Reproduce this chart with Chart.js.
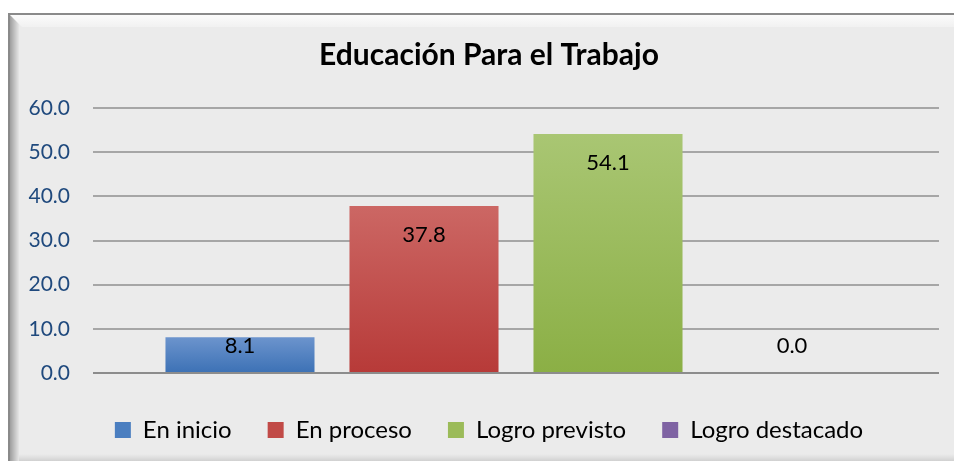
<!DOCTYPE html>
<html><head><meta charset="utf-8">
<script src="https://cdn.jsdelivr.net/npm/chart.js@4"></script>
<style>html,body{margin:0;padding:0;overflow:hidden;background:#fff}#wrap{width:954px;height:461px;overflow:hidden}</style>
</head><body><div id="wrap"><canvas id="c" width="978" height="461"></canvas></div>
<script>
const chartTitle = 'Educación Para el Trabajo';
const categories = ['Educación Para el Trabajo'];
const seriesNames = ['En inicio', 'En proceso', 'Logro previsto', 'Logro destacado'];
const enInicio = [8.1];
const enProceso = [37.8];
const logroPrevisto = [54.1];
const logroDestacado = [0.0];
const yTicks = [0, 10, 20, 30, 40, 50, 60];

const seriesValues = [enInicio, enProceso, logroPrevisto, logroDestacado];
const topColors = ['#6c94cd', '#cc6764', '#a9c673', '#9a81bb'];
const bottomColors = ['#3c71b5', '#b73a38', '#8baf45', '#6b4f90'];
const legendColors = ['#4a7ec0', '#c14a47', '#9bbb59', '#7f63a3'];
const FONT = 'Lato, "Open Sans", sans-serif';

const bgPlugin = {
  id: 'bg',
  beforeDraw(chart) {
    const ctx = chart.ctx, W = chart.width, H = chart.height;
    ctx.save();
    ctx.fillStyle = '#fff'; ctx.fillRect(0, 0, W, H);
    ctx.fillStyle = '#ebebeb'; ctx.fillRect(9, 13, W - 9, H - 13);
    let g = ctx.createLinearGradient(10, 0, 19, 0);
    g.addColorStop(0, '#9e9e9e'); g.addColorStop(1, '#e6e6e6');
    ctx.fillStyle = g; ctx.fillRect(10, 15, 9, H - 15);
    g = ctx.createLinearGradient(0, 15, 0, 28);
    g.addColorStop(0, '#fbfbfb'); g.addColorStop(1, '#f0f0f0');
    ctx.fillStyle = g;
    ctx.beginPath(); ctx.moveTo(10, 15); ctx.lineTo(W, 15); ctx.lineTo(W, 27); ctx.lineTo(22, 27); ctx.closePath(); ctx.fill();
    g = ctx.createLinearGradient(0, 454, 0, 461);
    g.addColorStop(0, 'rgba(200,200,200,0)'); g.addColorStop(1, 'rgba(190,190,190,0.6)');
    ctx.fillStyle = g; ctx.fillRect(19, 454, W - 19, 7);
    ctx.fillStyle = '#8a8a8a';
    ctx.fillRect(8, 13, W - 8, 2);
    ctx.fillRect(8, 13, 2, H - 13);
    ctx.restore();
  }
};

const labelPlugin = {
  id: 'vlabels',
  afterDatasetsDraw(chart) {
    const ctx = chart.ctx;
    const base = chart.scales.y.getPixelForValue(0);
    ctx.save();
    ctx.font = '22px ' + FONT;
    ctx.fillStyle = '#000';
    ctx.textAlign = 'center';
    ctx.textBaseline = 'middle';
    chart.data.datasets.forEach((ds, i) => {
      chart.getDatasetMeta(i).data.forEach((el, j) => {
        const v = ds.data[j];
        const y = Math.min(el.y + 29, base - 27);
        ctx.fillText(v.toFixed(1), el.x, y);
      });
    });
    ctx.restore();
  }
};

new Chart(document.getElementById('c'), {
  type: 'bar',
  data: {
    labels: categories,
    datasets: seriesNames.map((name, i) => ({
      label: name,
      data: seriesValues[i],
      barPercentage: 0.81,
      categoryPercentage: 0.87,
      borderWidth: 0,
      backgroundColor: (c) => {
        const chart = c.chart, ys = chart.scales && chart.scales.y;
        if (!chart.chartArea || !ys || c.type !== 'data') return legendColors[i];
        const top = ys.getPixelForValue(c.raw), base = ys.getPixelForValue(0);
        if (!isFinite(top) || !isFinite(base) || top >= base) return legendColors[i];
        const g = chart.ctx.createLinearGradient(0, top, 0, base);
        g.addColorStop(0, topColors[i]); g.addColorStop(1, bottomColors[i]);
        return g;
      }
    }))
  },
  options: {
    responsive: false,
    animation: false,
    devicePixelRatio: 1,
    layout: { padding: { left: 15, right: 15, top: 20, bottom: 9 } },
    plugins: {
      title: {
        display: true, text: chartTitle, color: '#000',
        font: { family: FONT, size: 30, weight: 'bold' },
        padding: { top: 17, bottom: 35 }
      },
      legend: {
        position: 'bottom',
        labels: {
          boxWidth: 16, boxHeight: 16, padding: 36, color: '#000',
          font: { family: FONT, size: 24 },
          generateLabels: (chart) => chart.data.datasets.map((ds, i) => ({
            text: ds.label, fillStyle: legendColors[i], strokeStyle: legendColors[i],
            lineWidth: 0, hidden: false, datasetIndex: i, fontColor: '#000'
          }))
        }
      },
      tooltip: { enabled: false }
    },
    scales: {
      x: {
        display: true,
        grid: { display: false },
        border: { display: false },
        ticks: { display: false },
        afterFit: (s) => { s.height = 9; }
      },
      y: {
        min: yTicks[0], max: yTicks[yTicks.length - 1],
        afterBuildTicks: (s) => { s.ticks = yTicks.map(v => ({ value: v })); },
        ticks: {
          padding: 23, color: '#1f497d',
          font: { family: FONT, size: 21 },
          callback: (v) => Number(v).toFixed(1)
        },
        grid: {
          color: (c) => (c.tick && c.tick.value === 0) ? '#8c8c8c' : '#a6a6a6',
          lineWidth: 2, drawTicks: false
        },
        border: { display: false },
        afterFit: (s) => { s.width = 78; }
      },
      yRight: {
        type: 'linear', position: 'right', display: true,
        grid: { display: false }, border: { display: false },
        ticks: { display: false },
        afterFit: (s) => { s.width = 24; }
      }
    }
  },
  plugins: [bgPlugin, labelPlugin]
});
</script>
</body></html>
